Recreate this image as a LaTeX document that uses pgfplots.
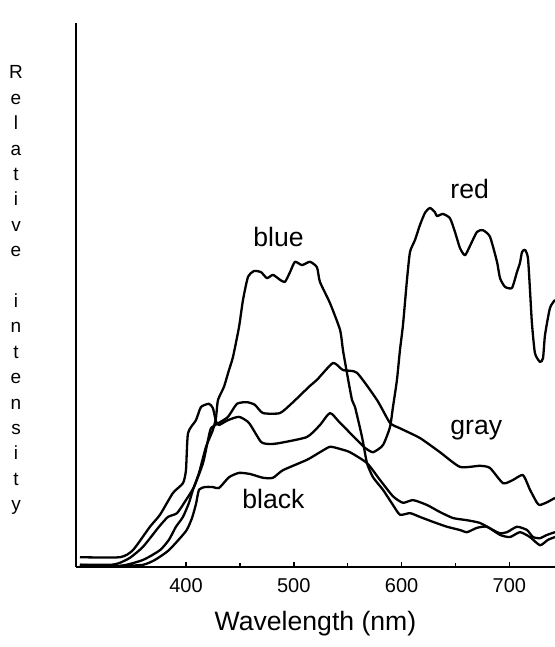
\documentclass[border=0pt]{standalone}
\usepackage{fontspec}
\setmainfont{Liberation Sans}
\usepackage{pgfplots}
\pgfplotsset{compat=1.18}
\begin{document}
\begin{tikzpicture}[x=1pt,y=1pt]
\path[use as bounding box] (-38,-40) rectangle (239.5,283.5);
\begin{axis}[
  at={(0,0)}, anchor=south west,
  scale only axis, width=239.5pt, height=272pt,
  xmin=298, xmax=742.3, ymin=0, ymax=100,
  axis lines*=left,
  axis line style={line width=1pt},
  xtick={400,500,600,700},
  minor xtick={350,450,550,650},
  ytick=\empty,
  tick align=inside,
  major tick length=2.5pt, minor tick length=2pt,
  tick style={line width=0.8pt, black},
  ticklabel style={font=\fontsize{10}{12}\selectfont},
  xticklabel style={yshift=-2pt},
  /pgf/number format/assume math mode=true,
  xlabel={Wavelength (nm)},
  xlabel style={at={(axis description cs:0.5,0)}, anchor=center, yshift=-28.5pt,
                font=\fontsize{13.3}{16}\selectfont},
  spec/.style={black, line width=1.15pt, line join=round, mark=none, smooth, tension=0.35},
]
% red
\addplot[spec] coordinates {
 (301.7,1.8) (338.8,1.8) (350.8,3.1) (366.6,7.4) (375.9,9.6) (387.9,13.6)
 (397.2,15.4) (400,17.8) (401.9,24.6) (409.3,27.0) (413.9,29.4) (421.3,30.0)
 (425.0,29.2) (427.8,26.8) (430.6,26.1) (439.0,27.0) (449.2,27.6) (458.4,26.5)
 (469.6,23.0) (477.9,22.6) (487.2,22.8) (512.2,23.9) (524.3,26.1) (533.6,28.3)
 (542.9,26.5) (561.4,22.8) (566.0,21.9) (573.5,21.1) (582.7,22.4) (589.2,25.7)
 (592.0,29.4) (595.7,34.4) (598.5,39.9) (601.3,44.5) (605.0,52.8) (607.8,57.9)
 (612.4,60.1) (617.1,62.9) (621.7,65.1) (626.3,66.0) (631.0,65.2) (632.8,64.5)
 (638.4,64.9) (644.9,64.1) (649.5,61.6) (654.2,58.6) (658.8,57.3) (663.4,59.0)
 (669.9,61.6) (675.5,61.9) (682.0,60.7) (688.5,56.1) (691.3,53.1) (695.9,51.5)
 (702.4,51.3) (707.0,54.2) (709.8,55.9) (711.7,57.9) (714.5,58.3) (717.2,56.8)
 (719.1,50.9) (720.9,44.8) (723.7,39.3) (728.4,37.7) (731.2,38.4) (733.0,42.6)
 (737.6,47.6) (742.3,49.1)
};
% gray
\addplot[spec] coordinates {
 (301.7,0.4) (329.5,0.4) (337.9,0.7) (348.1,1.7) (360.1,3.7) (375.0,7.4)
 (383.3,9.2) (391.7,9.9) (400,12.3) (407.4,14.7) (415.8,19.1) (420.4,23.3)
 (423.2,25.5) (430.6,26.5) (439.0,27.6) (447.3,30.0) (456.6,30.3) (464.0,29.8)
 (471.4,28.3) (487.2,28.3) (499.3,30.3) (515.0,33.3) (521.5,34.4) (536.4,37.5)
 (545.6,36.2) (558.6,35.7) (577.2,30.7) (589.2,26.5) (598.5,25.5) (617.1,23.7)
 (635.6,21.1) (654.2,18.4) (672.7,18.6) (682.0,18.2) (694.1,15.4) (703.3,16.0)
 (712.6,16.9) (719.1,14.2) (725.6,11.8) (728.4,11.4) (734.9,11.9) (742.3,12.7)
};
% blue
\addplot[spec] coordinates {
 (301.7,0.4) (338.8,0.2) (360.1,1.3) (375.9,3.1) (384.2,5.0) (390.7,7.4)
 (397.2,9.2) (402.8,11.8) (406.5,14.2) (412.1,17.3) (418.6,22.1) (425.0,25.2)
 (427.8,27.4) (429.7,30.7) (435.2,33.1) (439.9,36.2) (443.6,38.6) (449.2,44.1)
 (452.9,49.1) (457.5,53.3) (463.1,54.4) (469.6,54.2) (475.1,53.1) (480.7,53.7)
 (487.2,52.8) (491.8,52.4) (496.5,54.2) (501.1,56.1) (507.6,55.5) (515.0,56.1)
 (521.5,55.1) (524.3,52.4) (533.6,48.5) (542.9,43.6) (545.6,39.9) (549.3,35.7)
 (554.0,30.7) (556.8,29.4) (563.3,23.9) (567.9,19.1) (573.5,16.5) (582.7,14.2)
 (592.0,11.4) (598.5,9.6) (607.8,9.9) (617.1,9.2) (629.1,8.3) (642.1,7.4)
 (654.2,6.8) (660.7,6.4) (669.9,7.2) (679.2,7.4) (691.3,5.9) (700.5,5.5)
 (709.8,6.4) (719.1,5.5) (728.4,4.0) (735.8,5.0) (742.3,5.5)
};
% black
\addplot[spec] coordinates {
 (301.7,0.2) (338.8,0.2) (360.1,0.4) (371.2,1.3) (384.2,3.1) (400,6.6)
 (405.6,9.0) (409.3,11.6) (412.1,14.2) (417.6,14.7) (425.0,14.7) (430.6,14.5)
 (439.9,16.5) (449.2,17.3) (459.4,17.1) (471.4,16.4) (480.7,16.4) (490.0,17.8)
 (512.2,19.7) (524.3,21.1) (533.6,22.1) (542.9,21.7) (552.1,21.1) (567.9,19.1)
 (580.0,16.0) (592.0,13.0) (601.3,11.8) (610.6,12.3) (623.6,11.4) (635.6,10.1)
 (647.7,9.0) (660.7,8.6) (672.7,8.1) (684.8,6.8) (691.3,6.2) (697.8,6.4)
 (707.0,7.4) (716.3,6.8) (721.9,5.5) (728.4,5.3) (734.9,5.9) (742.3,6.4)
};
\end{axis}
\begin{scope}[every node/.style={font=\fontsize{13.3}{16}\selectfont, inner sep=0pt, anchor=base west}]
\node at (88.5,160) {blue};
\node at (187,184) {red};
\node at (187,66) {gray};
\node at (83,29.5) {black};
\end{scope}
\foreach \c [count=\i from 0] in {R,e,l,a,t,i,v,e,{},i,n,t,e,n,s,i,t,y}
  \node[anchor=base, font=\fontsize{9.5}{11}\selectfont, inner sep=0pt]
    at (-30,{(567-79-\i*25.4)/2}) {\c};
\end{tikzpicture}
\end{document}
